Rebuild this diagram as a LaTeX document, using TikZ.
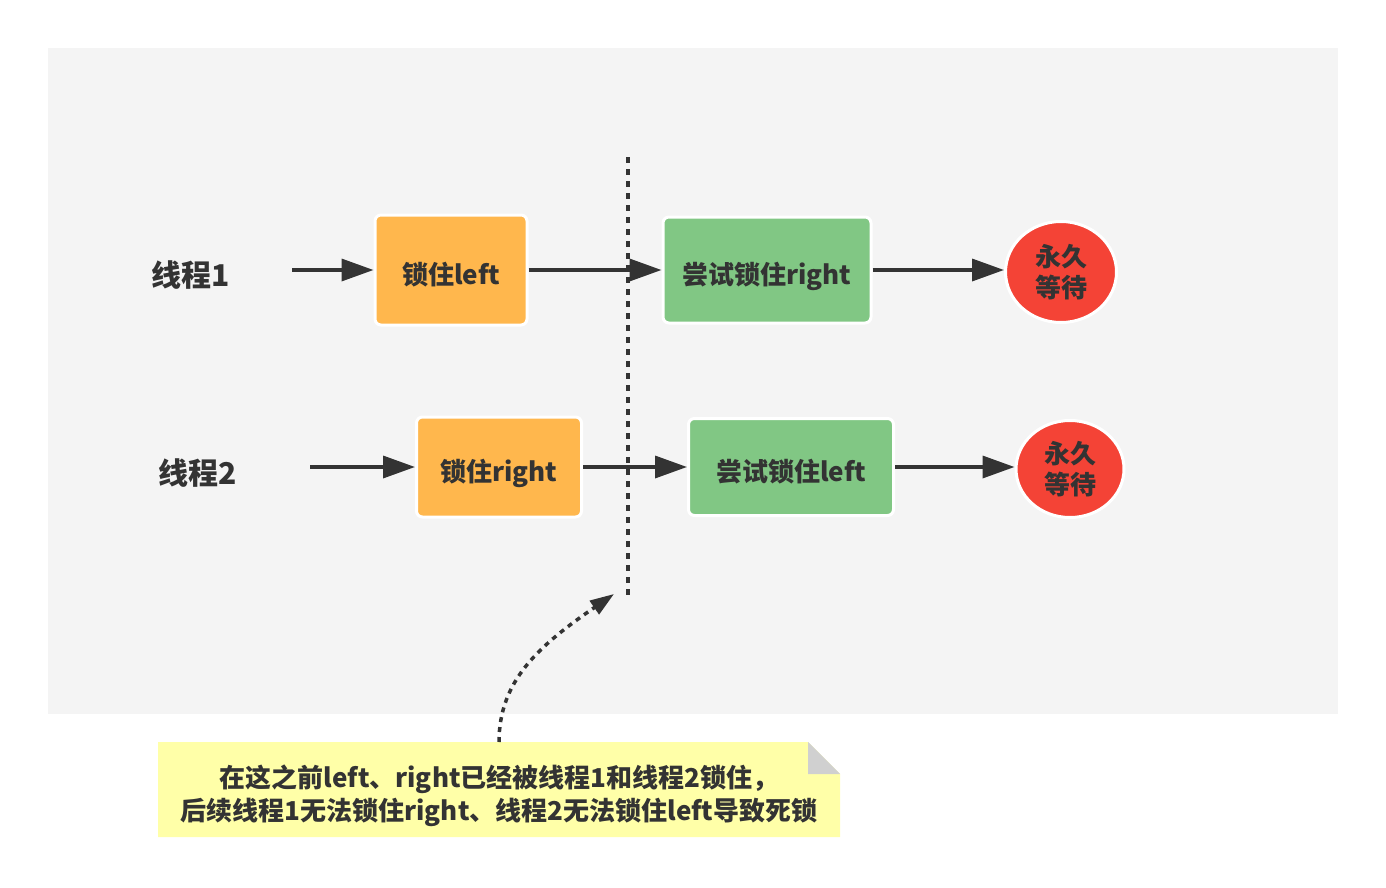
\documentclass[tikz,border=0pt]{standalone}
\usepackage{fontspec}
\setmainfont{Noto Sans CJK SC}
\usetikzlibrary{arrows.meta,shapes.geometric,positioning}

\definecolor{bggray}{HTML}{F4F4F4}
\definecolor{lockorange}{HTML}{FFB74D}
\definecolor{trygreen}{HTML}{81C784}
\definecolor{waitred}{HTML}{F44336}
\definecolor{noteyellow}{HTML}{FFFFA8}
\definecolor{foldgray}{HTML}{D0D0D0}
\definecolor{ink}{HTML}{333333}

\tikzset{
  lockbox/.style={rectangle,rounded corners=3pt,draw=white,line width=1.5pt,fill=lockorange,
    text=ink,font=\bfseries\fontsize{13}{15}\selectfont,inner sep=0pt,text height=14pt,text depth=0pt},
  trybox/.style={lockbox,fill=trygreen},
  waitnode/.style={ellipse,draw=white,line width=1.5pt,fill=waitred,inner sep=0pt,
    text=ink,align=center,font=\bfseries\fontsize{13}{15.5}\selectfont},
  thread/.style={text=ink,font=\bfseries\fontsize{15}{18}\selectfont},
  flow/.style={->,ink,line width=1.75pt},
  barrier/.style={ink,line width=2pt,dash pattern=on 3pt off 3pt}
}

\begin{document}
\begin{tikzpicture}[x=0.5pt,y=-0.5pt,>={Triangle[length=16pt,width=11pt]}]
\useasboundingbox (0,0) rectangle (1386,888);
\fill[bggray] (48,48) rectangle (1338,714);

% thread 1
\node[thread] (t1) at (191,275) {线程1};
\coordinate (s1) at (292,270);
\node[lockbox,minimum width=76pt,minimum height=55pt] (l1) at (451,270) {锁住left};
\node[trybox,minimum width=104pt,minimum height=53pt] (r1) at (767,270) {尝试锁住right};
\node[waitnode,minimum width=55.5pt,minimum height=50.5pt] (w1) at (1061,272) {永久\\等待};
\draw[flow] (s1) -- (l1);
\draw[flow] (l1) -- (r1);
\draw[flow] (r1) -- (r1 -| w1.west);

% thread 2
\node[thread] (t2) at (198,473) {线程2};
\coordinate (s2) at (310,467);
\node[lockbox,minimum width=82.5pt,minimum height=50pt] (l2) at (499,467) {锁住right};
\node[trybox,minimum width=102.5pt,minimum height=48.5pt] (r2) at (791,467) {尝试锁住left};
\node[waitnode,minimum width=54pt,minimum height=48.5pt] (w2) at (1070,469) {永久\\等待};
\draw[flow] (s2) -- (l2);
\draw[flow] (l2) -- (r2);
\draw[flow] (r2) -- (r2 -| w2.west);

% dividing line
\coordinate (top) at (628,157);
\coordinate (bot) at (628,597);
\draw[barrier] (top) -- (bot);

% note
\fill[noteyellow] (158,742) -- (808,742) -- (840,774) -- (840,837) -- (158,837) -- cycle;
\fill[foldgray] (808,742) -- (808,774) -- (840,774) -- cycle;
\node[text=ink,align=center,font=\bfseries\fontsize{13}{16.5}\selectfont] (note) at (499,796)
  {在这之前left、right已经被线程1和线程2锁住，\\后续线程1无法锁住right、线程2无法锁住left导致死锁};
\coordinate (nt) at (499,742);
\coordinate (tip) at (614,594);
\draw[barrier,->,>={Triangle[length=12pt,width=8pt]},line width=1.75pt,dash pattern=on 2.5pt off 2.5pt]
  (nt) .. controls (499,680) and (540,645) .. (tip);
\end{tikzpicture}
\end{document}
